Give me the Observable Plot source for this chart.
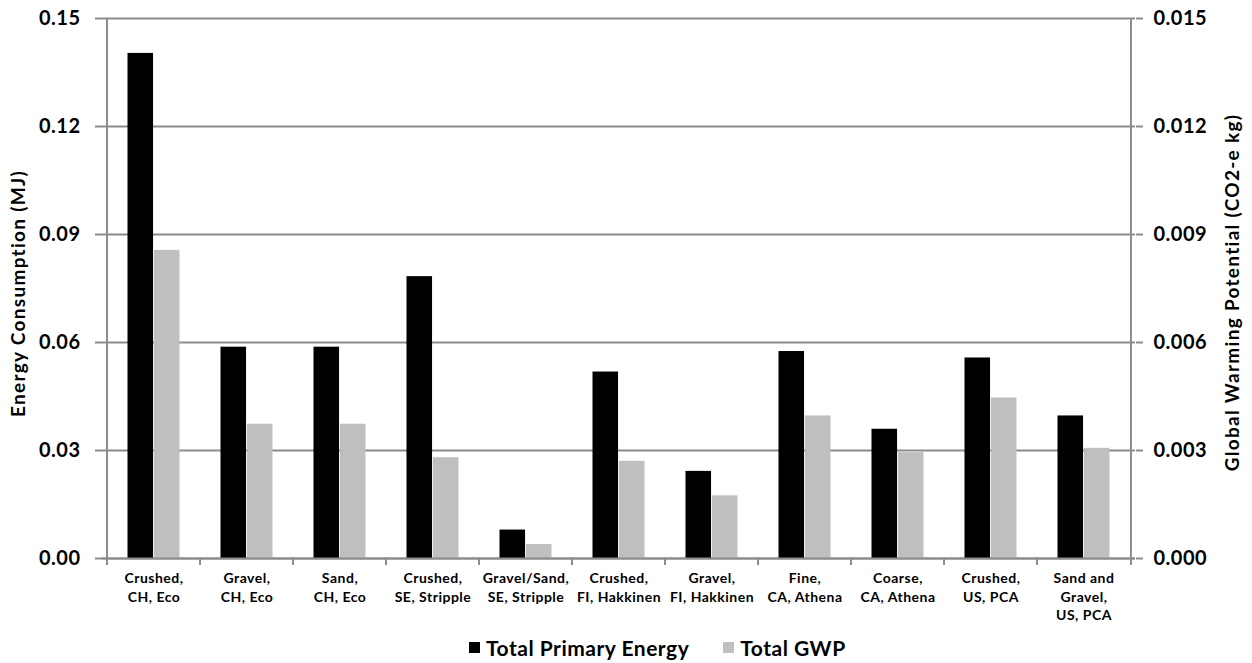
<!DOCTYPE html>
<html>
<head>
<meta charset="utf-8">
<script src="https://cdn.jsdelivr.net/npm/d3@7"></script>
<script src="https://cdn.jsdelivr.net/npm/@observablehq/plot@0.6"></script>
<style>
  html, body { margin: 0; padding: 0; background: #fff; }
  body { width: 1252px; height: 663px; overflow: hidden; font-family: Lato, "Open Sans", sans-serif; }
  #chart svg { letter-spacing: 0.5px; }
  #chart g[aria-label="text"] { letter-spacing: 1.3px; }
  #legend { height: 31px; display: flex; align-items: center; margin-left: 469px; font-weight: bold; font-size: 21px; letter-spacing: 0.5px; color: #000; }
  #legend .sw { width: 11px; height: 11px; display: inline-block; margin-right: 6px; }
  #legend .item { display: flex; align-items: center; margin-right: 34px; }
</style>
</head>
<body>
<div id="chart"></div>
<div id="legend"></div>
<script>
const categories = [
  "Crushed, CH, Eco", "Gravel, CH, Eco", "Sand, CH, Eco", "Crushed, SE, Stripple",
  "Gravel/Sand, SE, Stripple", "Crushed, FI, Hakkinen", "Gravel, FI, Hakkinen",
  "Fine, CA, Athena", "Coarse, CA, Athena", "Crushed, US, PCA", "Sand and Gravel, US, PCA"
];
const categoryLabels = [
  "Crushed,\nCH, Eco", "Gravel,\nCH, Eco", "Sand,\nCH, Eco", "Crushed,\nSE, Stripple",
  "Gravel/Sand,\nSE, Stripple", "Crushed,\nFI, Hakkinen", "Gravel,\nFI, Hakkinen",
  "Fine,\nCA, Athena", "Coarse,\nCA, Athena", "Crushed,\nUS, PCA", "Sand and\nGravel,\nUS, PCA"
];
// Total Primary Energy (MJ) — left axis
const energy = [0.1403, 0.0587, 0.0587, 0.0783, 0.0079, 0.0518, 0.0242, 0.0575, 0.0359, 0.0557, 0.0396];
// Total GWP (CO2-e kg) — right axis
const gwp = [0.00856, 0.00373, 0.00373, 0.0028, 0.00039, 0.0027, 0.00174, 0.00396, 0.00294, 0.00446, 0.00306];
const leftTicks = [0, 0.03, 0.06, 0.09, 0.12, 0.15];
const rightTicks = [0, 0.003, 0.006, 0.009, 0.012, 0.015];
const seriesNames = ["Total Primary Energy", "Total GWP"];
const seriesColors = ["#000000", "#bfbfbf"];
const leftTitle = "Energy Consumption (MJ)";
const rightTitle = "Global Warming Potential (CO2-e kg)";

const ratio = 10; // right axis max 0.015 vs left axis max 0.15
const W = 1252, H = 632, ML = 102, MR = 117, MT = 18, MB = 74;
const bw = (W - ML - MR) / categories.length;
const outer = 20.5;
const labelOf = new Map(categories.map((c, i) => [c, categoryLabels[i]]));

const data = categories.map((c, i) => ({category: c, energy: energy[i], gwp: gwp[i]}));
const gridColor = "#8c8c8c";

const chart = Plot.plot({
  width: W, height: H,
  marginLeft: ML, marginRight: MR, marginTop: MT, marginBottom: MB,
  style: {fontFamily: "Lato, 'Open Sans', sans-serif", fontWeight: "bold", color: "#000", background: "#fff", overflow: "visible"},
  x: {type: "band", domain: categories, padding: 0, axis: null},
  y: {domain: [0, 0.15], axis: null},
  marks: [
    Plot.gridY({ticks: leftTicks, stroke: gridColor, strokeOpacity: 1, strokeWidth: 2}),
    Plot.barY(data, {x: "category", y: "energy", fill: seriesColors[0], insetLeft: outer, insetRight: bw / 2}),
    Plot.barY(data, {x: "category", y: d => d.gwp * ratio, fill: seriesColors[1], insetLeft: bw / 2, insetRight: outer}),
    Plot.ruleY([0], {stroke: gridColor, strokeWidth: 2}),
    Plot.ruleX([categories[0]], {x: d => d, dx: -bw / 2, y1: 0, y2: 0.15, stroke: gridColor, strokeWidth: 2}),
    Plot.ruleX([categories[categories.length - 1]], {x: d => d, dx: bw / 2, y1: 0, y2: 0.15, stroke: gridColor, strokeWidth: 2}),
    // boundary ticks below the category axis
    Plot.axisX({ticks: categories, tickSize: 7, tickFormat: () => "", label: null, dx: -bw / 2, stroke: gridColor, strokeWidth: 2}),
    Plot.axisX({ticks: [categories[categories.length - 1]], tickSize: 7, tickFormat: () => "", label: null, dx: bw / 2, stroke: gridColor, strokeWidth: 2}),
    // category labels
    Plot.axisX({ticks: categories, tickSize: 0, tickPadding: 12, label: null, tickFormat: d => labelOf.get(d), fontSize: 14, fontWeight: "bold", lineHeight: 1.3, fill: "#000"}),
    // left axis
    Plot.axisY({anchor: "left", ticks: leftTicks, tickSize: 7, tickPadding: 15, tickFormat: d => d.toFixed(2), fontSize: 20, fontWeight: "bold", stroke: gridColor, strokeWidth: 2, fill: "#000", label: null}),
    // right axis (GWP, scaled)
    Plot.axisY({anchor: "right", ticks: rightTicks.map(v => v * ratio), tickSize: 7, tickPadding: 11, tickFormat: d => (d / ratio).toFixed(3), fontSize: 20, fontWeight: "bold", stroke: gridColor, strokeWidth: 2, fill: "#000", label: null}),
    Plot.text([leftTitle], {frameAnchor: "left", textAnchor: "middle", rotate: -90, dx: -84, dy: 5, fontSize: 19, fontWeight: "bold", fill: "#000"}),
    Plot.text([rightTitle], {frameAnchor: "right", textAnchor: "middle", rotate: -90, dx: 97, dy: 4, fontSize: 19, fontWeight: "bold", fill: "#000"})
  ]
});
document.getElementById("chart").appendChild(chart);

const legend = document.getElementById("legend");
seriesNames.forEach((name, i) => {
  const item = document.createElement("span");
  item.className = "item";
  const sw = document.createElement("span");
  sw.className = "sw";
  sw.style.background = seriesColors[i];
  item.appendChild(sw);
  item.appendChild(document.createTextNode(name));
  legend.appendChild(item);
});
</script>
</body>
</html>
